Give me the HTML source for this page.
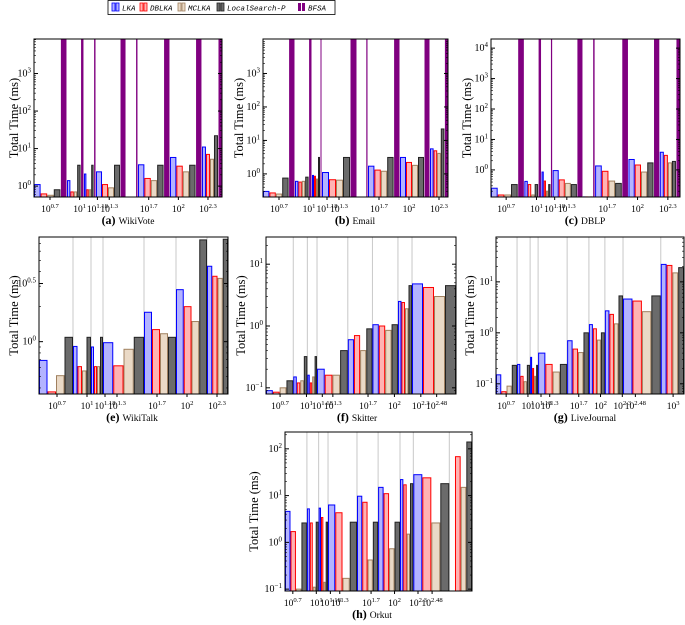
<!DOCTYPE html>
<html><head><meta charset="utf-8"><style>
body{margin:0;background:#fff;}
svg{display:block;font-family:"Liberation Serif",serif;}
</style></head><body>
<svg id="chart" width="685" height="625" viewBox="0 0 685 625">
<g>
<rect x="108" y="0.5" width="227" height="14" fill="#fff" stroke="#000" stroke-width="0.8"/>
<g><rect x="112" y="3" width="3" height="8" fill="#b3b3ff" stroke="#0000ff" stroke-width="0.8"/><rect x="116" y="3" width="3" height="8" fill="#b3b3ff" stroke="#0000ff" stroke-width="0.8"/><text x="122" y="10.5" font-family="Liberation Mono,monospace" font-style="italic" font-size="7.5">LKA</text></g>
<g><rect x="140" y="3" width="3" height="8" fill="#ffb3b3" stroke="#ff0000" stroke-width="0.8"/><rect x="144" y="3" width="3" height="8" fill="#ffb3b3" stroke="#ff0000" stroke-width="0.8"/><text x="150" y="10.5" font-family="Liberation Mono,monospace" font-style="italic" font-size="7.5">DBLKA</text></g>
<g><rect x="178" y="3" width="3" height="8" fill="#ead9c6" stroke="#a0805f" stroke-width="0.8"/><rect x="182" y="3" width="3" height="8" fill="#ead9c6" stroke="#a0805f" stroke-width="0.8"/><text x="188" y="10.5" font-family="Liberation Mono,monospace" font-style="italic" font-size="7.5">MCLKA</text></g>
<g><rect x="217" y="3" width="3" height="8" fill="#6b6b6b" stroke="#222" stroke-width="0.8"/><rect x="221" y="3" width="3" height="8" fill="#6b6b6b" stroke="#222" stroke-width="0.8"/><text x="227" y="10.5" font-family="Liberation Mono,monospace" font-style="italic" font-size="7.5">LocalSearch-P</text></g>
<g><rect x="298" y="3" width="3" height="8" fill="#800080"/><rect x="302" y="3" width="3" height="8" fill="#800080"/><text x="308" y="10.5" font-family="Liberation Mono,monospace" font-style="italic" font-size="7.5">BFSA</text></g>
</g>
</svg>
<script>
// ---- data (log10 of group boundaries on x axis; times in ms) ----
const aEdges=[0.538,0.872,1.044,1.166,1.470,1.591,1.915,2.239,2.442];
const aLKA=[1.1,1.4,2.1,2.4,0.5,3.7,5.8,11];
const aDBLKA=[0.62,0.7,0.8,1.1,0.5,1.6,3.4,7];
const aMCLKA=[0.57,0.7,0.8,0.9,0.5,1.4,2.4,5.2];
const aLS=[0.8,3.6,3.6,3.6,0.5,3.6,3.6,22];
const aBFSA=[1e5,1e5,1e5,1e5,1e5,1e5,1e5,1e5];

const bEdges=[0.54,0.86,1.03,1.13,1.48,1.59,1.91,2.21,2.39];
const bLKA=[0.3,0.6,0.9,1.1,0.2,1.7,3.1,5.6];
const bDBLKA=[0.27,0.57,0.85,0.67,0.2,1.3,2.2,4.9];
const bMCLKA=[0.25,0.6,0.7,0.65,0.2,1.2,1.8,4.1];
const bLS=[0.75,0.8,3.1,3.1,0.2,3.1,3.1,22];
const bBFSA=[1e5,1e5,1e5,1e5,1e5,1e5,1e5,1e5];

const cEdges=[0.55,0.88,1.05,1.16,1.46,1.58,1.91,2.22,2.42];
const cLKA=[0.25,0.42,0.85,0.95,0.13,1.35,2.2,3.8];
const cDBLKA=[0.15,0.33,0.43,0.47,0.13,0.9,1.45,3.0];
const cMCLKA=[0.15,0.15,0.2,0.36,0.13,0.43,0.85,1.7];
const cLS=[0.33,0.33,0.33,0.33,0.13,0.36,1.7,1.9];
const cBFSA=[1e5,1e5,1e5,1e5,1e5,1e5,1e5,1e5];

const eEdges=[0.52,0.86,1.04,1.16,1.57,1.89,2.2,2.41];
const eLKA=[0.69,0.91,0.9,0.98,1.79,2.8,4.45];
const eDBLKA=[0.37,0.61,0.61,0.62,1.27,2.0,3.65];
const eMCLKA=[0.51,0.56,0.61,0.86,1.17,1.49,3.5];
const eLS=[1.09,1.09,1.09,1.09,1.09,7.5,7.6];

const fEdges=[0.54,0.85,1.01,1.12,1.47,1.75,2.04,2.2,2.7];
const fLKA=[0.09,0.15,0.16,0.2,0.6,1.05,2.5,4.8];
const fDBLKA=[0.085,0.12,0.12,0.16,0.7,1.0,2.4,4.2];
const fMCLKA=[0.1,0.13,0.15,0.16,0.4,0.85,1.9,3.0];
const fLS=[0.13,0.32,0.32,0.4,0.9,1.05,4.5,4.5];

const gEdges=[0.56,0.85,1.03,1.14,1.54,1.84,2.06,2.31,2.83,3.15];
const gLKA=[0.15,0.24,0.33,0.4,0.7,1.45,2.7,4.6,22];
const gDBLKA=[0.07,0.14,0.2,0.24,0.48,1.2,2.3,4.2,21];
const gMCLKA=[0.09,0.11,0.14,0.17,0.41,0.72,1.5,2.6,15];
const gLS=[0.23,0.23,0.23,0.24,1.0,1.0,5.3,5.3,19];

const hEdges=[0.6,0.88,1.03,1.15,1.52,1.79,2.07,2.24,2.7,2.99];
const hLKA=[4.6,5.2,5.4,6.3,9.7,15,22,28,0.05];
const hDBLKA=[1.7,2.6,3.4,4.3,7.2,11,17,24,68];
const hMCLKA=[0.1,0.11,0.14,0.17,0.42,0.73,1.5,2.6,15];
const hLS=[2.6,2.7,2.7,2.7,2.7,2.7,18,18,140];

const xTickLabels=["0.7","1","1.18","1.3","1.7","2","2.3"];
const xTickLabelsF=["0.7","1","1.18","1.3","1.7","2","2.3","2.48"];
const xTickLabelsG=["0.7","1","1.18","1.3","1.7","2","2.3","2.48","3"];

const STY={LKA:["#b3b3ff","#0000ff"],DBLKA:["#ffb3b3","#ff0000"],MCLKA:["#ead9c6","#a0805f"],LS:["#6b6b6b","#222222"],BFSA:["#800080","none"]};
const panels=[
 {id:"a",name:"WikiVote",L:34,R:222,T:39,B:197,x0:0.538,x1:2.442,y0:-0.29,y1:3.92,yt:["0","1","2","3"],grid:false,edges:aEdges,ser:[["LKA",aLKA],["DBLKA",aDBLKA],["MCLKA",aMCLKA],["LS",aLS],["BFSA",aBFSA]],xl:xTickLabels,capX:128,capY:224,ytX:14},
 {id:"b",name:"Email",L:263,R:448,T:39,B:197,x0:0.54,x1:2.39,y0:-0.69,y1:4.03,yt:["0","1","2","3"],grid:false,edges:bEdges,ser:[["LKA",bLKA],["DBLKA",bDBLKA],["MCLKA",bMCLKA],["LS",bLS],["BFSA",bBFSA]],xl:xTickLabels,capX:355,capY:224,ytX:239},
 {id:"c",name:"DBLP",L:491,R:680,T:39,B:197,x0:0.55,x1:2.42,y0:-0.89,y1:4.3,yt:["0","1","2","3","4"],grid:false,edges:cEdges,ser:[["LKA",cLKA],["DBLKA",cDBLKA],["MCLKA",cMCLKA],["LS",cLS],["BFSA",cBFSA]],xl:xTickLabels,capX:585,capY:224,ytX:467},
 {id:"e",name:"WikiTalk",L:39,R:228,T:237,B:394,x0:0.52,x1:2.41,y0:-0.45,y1:0.9,yt:["0","0.5"],grid:true,edges:eEdges,ser:[["LKA",eLKA],["DBLKA",eDBLKA],["MCLKA",eMCLKA],["LS",eLS]],xl:xTickLabels,capX:132,capY:421,ytX:14},
 {id:"f",name:"Skitter",L:266,R:456,T:237,B:394,x0:0.54,x1:2.7,y0:-1.1,y1:1.44,yt:["-1","0","1"],grid:true,edges:fEdges,ser:[["LKA",fLKA],["DBLKA",fDBLKA],["MCLKA",fMCLKA],["LS",fLS]],xl:xTickLabelsF,capX:357,capY:421,ytX:241},
 {id:"g",name:"LiveJournal",L:496,R:684,T:237,B:394,x0:0.56,x1:3.15,y0:-1.2,y1:1.88,yt:["-1","0","1"],grid:true,edges:gEdges,ser:[["LKA",gLKA],["DBLKA",gDBLKA],["MCLKA",gMCLKA],["LS",gLS]],xl:xTickLabelsG,capX:585,capY:421,ytX:470},
 {id:"h",name:"Orkut",L:285,R:472,T:432,B:591,x0:0.6,x1:2.99,y0:-1.04,y1:2.36,yt:["-1","0","1","2"],grid:true,edges:hEdges,ser:[["LKA",hLKA],["DBLKA",hDBLKA],["MCLKA",hMCLKA],["LS",hLS]],xl:xTickLabelsF,capX:372,capY:618,ytX:254}
];
const NS="http://www.w3.org/2000/svg";
const svg=document.getElementById("chart");
function mk(tag,attrs,parent){const e=document.createElementNS(NS,tag);for(const k in attrs)e.setAttribute(k,attrs[k]);parent.appendChild(e);return e;}
function pow(parent,x,y,exp,size,anchor){
 const t=mk("text",{x:x,y:y,"font-size":size,"text-anchor":anchor},parent);
 t.appendChild(document.createTextNode("10"));
 const s=mk("tspan",{"font-size":size*0.7,dy:-size*0.4},t);
 s.textContent=exp.replace("-","\u2212");
 return t;
}
panels.forEach(p=>{
 const g=mk("g",{},svg);
 
 
 const sx=v=>p.L+(v-p.x0)/(p.x1-p.x0)*(p.R-p.L);
 const sy=v=>{const l=Math.log10(v);const c=Math.max(p.y0,Math.min(p.y1,l));return p.B-(c-p.y0)/(p.y1-p.y0)*(p.B-p.T);};
 const cp="clip"+p.id;
 const cl=mk("clipPath",{id:cp},g);mk("rect",{x:p.L,y:p.T,width:p.R-p.L,height:p.B-p.T},cl);
 if(p.grid){p.edges.slice(1,-1).forEach(e=>{const ln=mk("line",{x1:sx(e),x2:sx(e),y1:p.T,y2:p.B,stroke:"#c8c8c8","stroke-width":1},g);
   
   });}
 const bars=mk("g",{"clip-path":"url(#"+cp+")"},g);
 
 
 const n=p.ser.length;
 for(let k=0;k<p.edges.length-1;k++){
  const w=(p.edges[k+1]-p.edges[k])/n;
  p.ser.forEach((s,i)=>{
   const xa=sx(p.edges[k]+i*w),xb=sx(p.edges[k]+(i+1)*w);
   const yv=sy(s[1][k]);
   const st=STY[s[0]];
   const r=mk("rect",{x:xa+0.5,y:yv,width:Math.max(0.5,xb-xa-1),height:Math.max(0,p.B-yv),fill:st[0],stroke:st[1],"stroke-width":1},bars);
   
   
  });
 }
 const fr=mk("rect",{x:p.L,y:p.T,width:p.R-p.L,height:p.B-p.T,fill:"none",stroke:"#000","stroke-width":1},g);
 
 
 // minor y ticks
 for(let d=Math.floor(p.y0);d<=Math.ceil(p.y1);d++){
  for(let m=2;m<=9;m++){const l=d+Math.log10(m);if(l<p.y0||l>p.y1)continue;const y=sy(Math.pow(10,l));
   mk("line",{x1:p.L,x2:p.L+2,y1:y,y2:y,stroke:"#000","stroke-width":0.6},g);mk("line",{x1:p.R,x2:p.R-2,y1:y,y2:y,stroke:"#000","stroke-width":0.6},g);}
 }
 // y ticks
 p.yt.forEach(t=>{const y=sy(Math.pow(10,parseFloat(t)));
  mk("line",{x1:p.L,x2:p.L+4,y1:y,y2:y,stroke:"#000"},g);mk("line",{x1:p.R,x2:p.R-4,y1:y,y2:y,stroke:"#000"},g);
  const tl=pow(g,p.L-3,y+3,t,10,"end");
  
  });
 // x ticks
 p.xl.forEach(t=>{const x=sx(parseFloat(t));
  mk("line",{x1:x,x2:x,y1:p.B,y2:p.B+3,stroke:"#000"},g);
  const tl=pow(g,x,p.B+15,t,9.5,"middle");
  
  });
 const yt=mk("text",{x:p.ytX,y:(p.T+p.B)/2,"font-size":12.5,"text-anchor":"middle",transform:"rotate(-90 "+p.ytX+" "+((p.T+p.B)/2)+")",dy:4},g);
 yt.textContent="Total Time (ms)";
 
 
 const cap=mk("text",{x:p.capX,y:p.capY,"font-size":11,"text-anchor":"middle"},g);
 const b=mk("tspan",{"font-weight":"bold","font-size":12},cap);b.textContent="("+p.id+") ";
 const nm=mk("tspan",{"font-size":9.5},cap);nm.textContent=p.name;
 
 
});
</script>
</body></html>
